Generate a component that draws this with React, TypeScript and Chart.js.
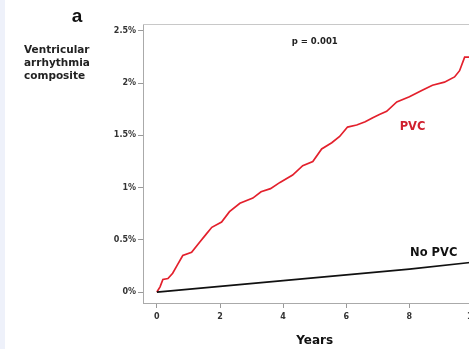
import React, { useEffect, useRef } from "react";
import { Chart, registerables } from "chart.js";

Chart.register(...registerables);

const pvcYears = [0, 0.1, 0.19, 0.35, 0.5, 0.65, 0.82, 1.1, 1.36, 1.55, 1.74, 2.05, 2.3, 2.63, 3.04, 3.3, 3.6, 3.9, 4.3, 4.62, 4.94, 5.22, 5.54, 5.79, 6.04, 6.33, 6.6, 6.84, 7.05, 7.28, 7.6, 8.0, 8.39, 8.73, 9.11, 9.43, 9.59, 9.75, 10.0];
const pvcValues = [0, 0.05, 0.12, 0.13, 0.18, 0.26, 0.35, 0.38, 0.48, 0.55, 0.62, 0.67, 0.77, 0.85, 0.9, 0.96, 0.99, 1.05, 1.12, 1.21, 1.25, 1.37, 1.43, 1.49, 1.58, 1.6, 1.63, 1.67, 1.7, 1.73, 1.82, 1.87, 1.93, 1.98, 2.01, 2.06, 2.12, 2.25, 2.25];
const noPvcYears = [0, 2, 4, 6, 8, 10];
const noPvcValues = [0, 0.055, 0.11, 0.165, 0.22, 0.285];
const yTicks = [0, 0.5, 1, 1.5, 2, 2.5];
const yTickLabels = ["0%", "0.5%", "1%", "1.5%", "2%", "2.5%"];
const xTicks = [0, 2, 4, 6, 8, 10];

const FONT = "'DejaVu Sans', Verdana, sans-serif";

export default function App() {
  const ref = useRef<HTMLCanvasElement | null>(null);
  useEffect(() => {
    document.body.style.margin = "0";
    document.body.style.overflow = "hidden";
    const canvas = ref.current!;
    const annot = {
      id: "annot",
      afterDraw(chart: any) {
        const ctx = chart.ctx;
        const xs = chart.scales.x;
        const ys = chart.scales.y;
        const ca = chart.chartArea;
        ctx.save();
        ctx.strokeStyle = "#c8c8c8";
        ctx.lineWidth = 1;
        ctx.beginPath();
        ctx.moveTo(ca.left, ca.top + 0.5);
        ctx.lineTo(ca.right, ca.top + 0.5);
        ctx.stroke();
        ctx.textAlign = "center";
        ctx.textBaseline = "middle";
        ctx.fillStyle = "#111";
        ctx.font = `bold 19px 'Liberation Sans', Arial, sans-serif`;
        ctx.fillText("a", 77, 17);
        ctx.textAlign = "left";
        ctx.font = `bold 10.5px ${FONT}`;
        ctx.fillStyle = "#222";
        ctx.fillText("Ventricular", 24, 50);
        ctx.fillText("arrhythmia", 24, 63);
        ctx.fillText("composite", 24, 76);
        ctx.textAlign = "center";
        ctx.font = `bold 8.5px ${FONT}`;
        ctx.fillText("p = 0.001", xs.getPixelForValue(5.0), ys.getPixelForValue(2.4));
        ctx.font = `bold 11.5px ${FONT}`;
        ctx.fillStyle = "#d0202e";
        ctx.fillText("PVC", xs.getPixelForValue(8.1), ys.getPixelForValue(1.58));
        ctx.fillStyle = "#111";
        ctx.fillText("No PVC", xs.getPixelForValue(8.77), ys.getPixelForValue(0.37));
        ctx.font = `bold 12px ${FONT}`;
        ctx.fillText("Years", xs.getPixelForValue(5.0), 341);
        ctx.restore();
      },
    };
    const chart = new Chart(canvas, {
      type: "line",
      data: {
        datasets: [
          {
            label: "No PVC",
            data: noPvcYears.map((x, i) => ({ x, y: noPvcValues[i] })),
            borderColor: "#111",
            borderWidth: 1.7,
            pointRadius: 0,
            fill: false,
          },
          {
            label: "PVC",
            data: pvcYears.map((x, i) => ({ x, y: pvcValues[i] })),
            borderColor: "#e3202c",
            borderWidth: 1.7,
            pointRadius: 0,
            fill: false,
          },
        ],
      },
      options: {
        animation: false,
        responsive: false,
        events: [],
        layout: { padding: { top: 24, left: 0, right: 8, bottom: 0 } },
        plugins: { legend: { display: false }, tooltip: { enabled: false } },
        scales: {
          x: {
            type: "linear",
            min: -0.44,
            max: 10.3,
            afterBuildTicks: (s: any) => {
              s.ticks = xTicks.map((v) => ({ value: v }));
            },
            afterFit: (s: any) => {
              s.height = 46;
            },
            border: { display: true, color: "#aaa", width: 1 },
            grid: { display: true, drawOnChartArea: false, drawTicks: true, tickLength: 5, color: "#999" },
            ticks: {
              padding: 4,
              color: "#333",
              font: { family: FONT, size: 8, weight: "bold" },
              callback: (v: any) => String(v),
              maxRotation: 0,
            },
          },
          y: {
            type: "linear",
            min: -0.105,
            max: 2.567,
            afterBuildTicks: (s: any) => {
              s.ticks = yTicks.map((v) => ({ value: v }));
            },
            afterFit: (s: any) => {
              s.width = 143;
            },
            border: { display: true, color: "#aaa", width: 1 },
            grid: { display: true, drawOnChartArea: false, drawTicks: true, tickLength: 5, color: "#999" },
            ticks: {
              padding: 2,
              color: "#333",
              font: { family: FONT, size: 8, weight: "bold" },
              callback: (v: any) => {
                const i = yTicks.indexOf(Number(v));
                return i >= 0 ? yTickLabels[i] : "";
              },
            },
          },
        },
      },
      plugins: [annot],
    } as any);
    return () => chart.destroy();
  }, []);
  return (
    <div style={{ position: "relative", width: 469, height: 349, overflow: "hidden", background: "#fff" }}>
      <div style={{ position: "absolute", left: 0, top: 0, width: 5, height: 349, background: "#eef1fa" }} />
      <canvas ref={ref} width={490} height={349} style={{ position: "absolute", left: 0, top: 0, width: 490, height: 349 }} />
    </div>
  );
}
